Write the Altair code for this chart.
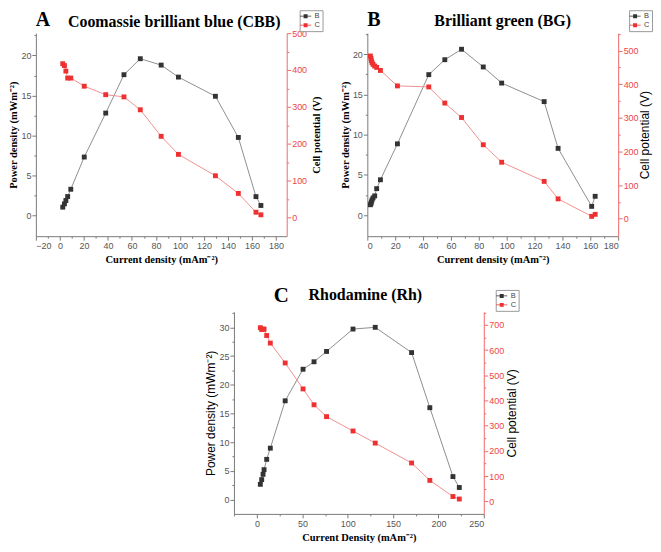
import altair as alt
import pandas as pd

# ---------------- data ----------------
# Panel A : Coomassie brilliant blue (CBB)
a_current = [2.4, 3.8, 5.0, 6.5, 9.1, 20.3, 38.2, 53.4, 67.0, 84.4, 98.8, 129.6, 148.7, 163.4, 167.5]
a_power = [1.03, 1.44, 1.86, 2.36, 3.27, 7.3, 12.8, 17.6, 19.6, 18.8, 17.3, 14.9, 9.75, 2.35, 1.24]
a_potential = [417, 412, 397, 378, 378, 356, 333, 327, 292, 220, 171, 113, 65, 14, 7]

# Panel B : Brilliant green (BG)
b_current = [2.2, 2.6, 2.9, 3.4, 4.1, 5.3, 6.7, 9.4, 21.6, 44.1, 55.6, 67.6, 83.2, 96.4, 126.9, 136.9, 161.0, 163.5]
b_power = [1.3, 1.45, 1.65, 1.9, 2.15, 2.4, 3.3, 4.4, 8.86, 17.45, 19.3, 20.6, 18.4, 16.4, 14.1, 8.3, 1.1, 2.35]
b_potential = [484, 477, 470, 464, 459, 454, 450, 441, 395, 392, 344, 301, 220, 168, 111, 59, 7, 13]

# Panel C : Rhodamine (Rh)
c_current = [3.6, 5.1, 6.6, 7.7, 10.6, 14.6, 31.0, 50.7, 62.8, 76.6, 105.8, 130.3, 170.4, 190.5, 216.0, 223.0]
c_power = [2.65, 3.47, 4.39, 5.2, 7.0, 8.95, 17.2, 22.7, 24.0, 25.8, 29.7, 30.0, 25.6, 16.0, 4.0, 2.1]
c_potential = [689, 682, 684, 683, 658, 628, 549, 446, 383, 336, 279, 231, 152, 83, 19, 9]

series_names = ["B", "C"]

# ---------------- styles ----------------
SERIF = "Liberation Serif"
SANS = "Liberation Sans"
DARK = "#333333"
RED = "#ee3030"
LINE_DARK = "#8e8e8e"
LINE_RED = "#f29090"
AXIS_GRAY = "#7a7a7a"
LABEL_GRAY = "#555555"
AXIS_RED = "#f06a6a"
LABEL_RED = "#ee4444"
LEGEND_PATH = "M-1.4,-0.09H1.4V0.09H-1.4Z M-0.5,-0.5H0.5V0.5H-0.5Z"
TICK_FS = 9


def cond_tick(step):
    return {"condition": {"test": f"abs(datum.value % {step}) < 0.001", "value": 4}, "value": 2}


def label_expr(step):
    return f"abs(datum.value % {step}) < 0.001 ? datum.label : ''"


def frange(a, b, s):
    out = []
    v = a
    while v <= b + 1e-9:
        out.append(round(v, 4))
        v += s
    return out


def title_style(font, weight):
    size = 10.5 if font == SERIF else 12
    return dict(titleFont=font, titleFontWeight=weight, titleFontSize=size, titleColor="black")


def panel(letter, name, current, power, potential, *, width, height,
          xdom, xstart, xminor, xmajor, xtitle,
          ydom, ymax, rdom, rmax,
          ltitle_font, ltitle_weight, rtitle_font, rtitle_weight, rtitle_pad,
          letter_xy, letter_size, name_xy, legend_xy):
    df = pd.DataFrame({"current": current, "power": power, "potential": potential})

    x_axis = alt.Axis(
        values=frange(xstart, xdom[1], xminor),
        labelExpr=label_expr(xmajor), tickSize=cond_tick(xmajor),
        title=xtitle, titlePadding=4, **title_style(SERIF, "bold"),
        labelFont=SANS, labelFontSize=TICK_FS, labelColor=LABEL_GRAY, labelPadding=1.5,
        domainColor=AXIS_GRAY, tickColor=AXIS_GRAY, grid=False, labelOverlap=False,
    )
    x = alt.X("current:Q", scale=alt.Scale(domain=xdom, nice=False, zero=False), axis=x_axis)

    left_axis = alt.Axis(
        values=frange(0, ymax, 2.5), labelExpr=label_expr(5), tickSize=cond_tick(5),
        title="Power density (mWm⁻²)", titlePadding=2, **title_style(ltitle_font, ltitle_weight),
        labelFont=SANS, labelFontSize=TICK_FS, labelColor=LABEL_GRAY, labelPadding=1,
        domainColor=AXIS_GRAY, tickColor=AXIS_GRAY, grid=False, labelOverlap=False,
    )
    right_axis = alt.Axis(
        orient="right",
        values=frange(0, rmax, 50), labelExpr=label_expr(100), tickSize=cond_tick(100),
        title="Cell potential (V)", titleAngle=270, titleBaseline="top", titlePadding=rtitle_pad,
        **title_style(rtitle_font, rtitle_weight),
        labelFont=SANS, labelFontSize=TICK_FS, labelColor=LABEL_RED, labelPadding=1,
        domainColor=AXIS_RED, tickColor=AXIS_RED, grid=False, labelOverlap=False,
    )

    color_scale = alt.Scale(domain=series_names, range=[DARK, RED])
    legend = alt.Legend(
        title=None, orient="none", legendX=legend_xy[0], legendY=legend_xy[1],
        symbolType=LEGEND_PATH, symbolSize=64, symbolStrokeWidth=0,
        labelFont=SANS, labelFontSize=7.5, labelColor="#444444", labelOffset=5,
        strokeColor="#9a9a9a", fillColor="white", padding=2, rowPadding=1,
    )

    yl = alt.Y("power:Q", scale=alt.Scale(domain=ydom, nice=False, zero=False), axis=left_axis)
    yr = alt.Y("potential:Q", scale=alt.Scale(domain=rdom, nice=False, zero=False), axis=right_axis)

    base = alt.Chart(df)
    black_line = base.mark_line(color=LINE_DARK, strokeWidth=1).encode(x=x, y=yl)
    black_pts = base.transform_calculate(series="'B'").mark_square(size=24, opacity=1, filled=True).encode(
        x=x, y=yl, color=alt.Color("series:N", scale=color_scale, legend=legend))
    red_line = base.mark_line(color=LINE_RED, strokeWidth=1).encode(x=x, y=yr)
    red_pts = base.transform_calculate(series="'C'").mark_square(size=24, opacity=1, filled=True).encode(
        x=x, y=yr, color=alt.Color("series:N", scale=color_scale, legend=legend))

    left = alt.layer(black_line, black_pts)
    right = alt.layer(red_line, red_pts)

    letter_layer = alt.Chart(pd.DataFrame({"t": [letter]})).mark_text(
        font=SERIF, fontWeight="bold", fontSize=letter_size, align="left",
        baseline="alphabetic", color="black").encode(
        x=alt.value(letter_xy[0]), y=alt.value(letter_xy[1]), text="t:N")
    name_layer = alt.Chart(pd.DataFrame({"t": [name]})).mark_text(
        font=SERIF, fontWeight="bold", fontSize=16, align="center",
        baseline="alphabetic", color="black").encode(
        x=alt.value(name_xy[0]), y=alt.value(name_xy[1]), text="t:N")

    return alt.layer(left, right, letter_layer, name_layer).resolve_scale(
        y="independent").properties(width=width, height=height)


A = panel("A", "Coomassie brilliant blue (CBB)", a_current, a_power, a_potential,
          width=252, height=204, xdom=[-20, 189], xstart=-20, xminor=10, xmajor=20,
          xtitle="Current density (mAm⁻²)", ydom=[-2.6, 22.8], ymax=22.5,
          rdom=[-51, 500], rmax=500,
          ltitle_font=SERIF, ltitle_weight="bold", rtitle_font=SERIF, rtitle_weight="bold",
          rtitle_pad=5,
          letter_xy=(0, -7), letter_size=20, name_xy=(139, -6), legend_xy=(265, -23))

B = panel("B", "Brilliant green (BG)", b_current, b_power, b_potential,
          width=252, height=204, xdom=[0, 180], xstart=0, xminor=10, xmajor=20,
          xtitle="Current density (mAm⁻²)", ydom=[-2.6, 22.6], ymax=22.5,
          rdom=[-52, 552], rmax=550,
          ltitle_font=SERIF, ltitle_weight="bold", rtitle_font=SANS, rtitle_weight="normal",
          rtitle_pad=1,
          letter_xy=(0, -7), letter_size=20, name_xy=(136, -7), legend_xy=(263, -23))

C = panel("C", "Rhodamine (Rh)", c_current, c_power, c_potential,
          width=251, height=203, xdom=[-25.5, 250], xstart=-25, xminor=25, xmajor=50,
          xtitle="Current Density (mAm⁻²)", ydom=[-2.5, 32.7], ymax=32.5,
          rdom=[-50, 752], rmax=750,
          ltitle_font=SANS, ltitle_weight="normal", rtitle_font=SANS, rtitle_weight="normal",
          rtitle_pad=3,
          letter_xy=(40, -10), letter_size=21, name_xy=(132, -12), legend_xy=(263, -22))

spacer = alt.Chart(pd.DataFrame({"z": [0]})).mark_point(opacity=0, size=1).encode(
    x=alt.value(0), y=alt.value(0)).properties(width=167.5, height=20)

row1 = alt.hconcat(A, B, spacing=16).resolve_scale(color="independent").resolve_legend(color="independent")
row2 = alt.hconcat(spacer, C, spacing=0).resolve_scale(color="independent").resolve_legend(color="independent")
chart = alt.vconcat(row1, row2, spacing=20).resolve_scale(color="independent").resolve_legend(
    color="independent").configure_view(stroke=None).properties(padding=0)

chart.save("out.html", embed_options={"renderer": "svg", "actions": False})
